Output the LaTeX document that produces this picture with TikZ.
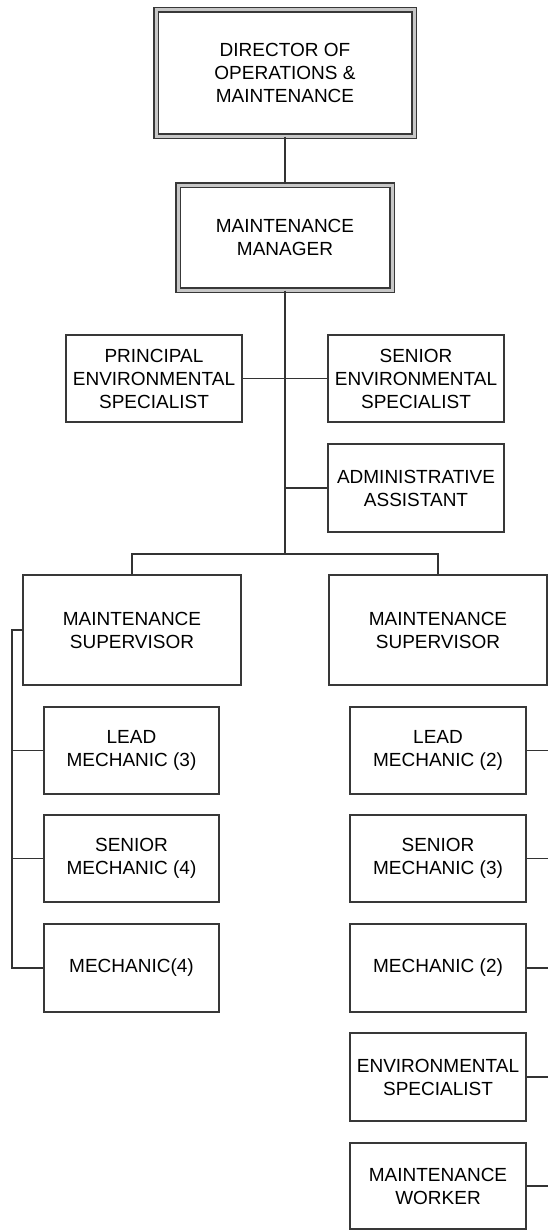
\documentclass[tikz,border=0pt]{standalone}
\usepackage{fontspec}
\setmainfont{Liberation Sans}
\begin{document}
\begin{tikzpicture}[x=1pt,y=-1pt,
  box/.style={draw=black!78, line width=1.4pt, fill=white, rectangle, align=center,
    inner sep=2pt, text=black, font=\fontsize{19}{23}\selectfont},
  dbox/.style={box, line width=1.2pt, double=black!22, double distance=3pt},
  conn/.style={draw=black!80, line width=1.4pt}]
\useasboundingbox (0,0) rectangle (548,1231);
% top
\node[dbox, minimum width=258pt, minimum height=126pt] (dir) at (285,73) {DIRECTOR OF\\OPERATIONS \&\\MAINTENANCE};
\node[dbox, minimum width=214pt, minimum height=105pt] (mgr) at (285,237.5) {MAINTENANCE\\MANAGER};
% staff
\node[box, minimum width=176pt, minimum height=87pt] (pes) at (154,378.5) {PRINCIPAL\\ENVIRONMENTAL\\SPECIALIST};
\node[box, minimum width=176pt, minimum height=87pt] (ses) at (416,378.5) {SENIOR\\ENVIRONMENTAL\\SPECIALIST};
\node[box, minimum width=176pt, minimum height=88pt] (adm) at (416,488) {ADMINISTRATIVE\\ASSISTANT};
% supervisors
\node[box, minimum width=218pt, minimum height=110pt] (ms1) at (132,630) {MAINTENANCE\\SUPERVISOR};
\node[box, minimum width=218pt, minimum height=110pt] (ms2) at (438,630) {MAINTENANCE\\SUPERVISOR};
% left team
\node[box, minimum width=175pt, minimum height=87pt] (lm3) at (131.5,750.5) {LEAD\\MECHANIC (3)};
\node[box, minimum width=175pt, minimum height=87pt] (sm4) at (131.5,858.5) {SENIOR\\MECHANIC (4)};
\node[box, minimum width=175pt, minimum height=88pt] (m4) at (131.5,968) {MECHANIC(4)};
% right team
\node[box, minimum width=176pt, minimum height=87pt] (lm2) at (438,750.5) {LEAD\\MECHANIC (2)};
\node[box, minimum width=176pt, minimum height=87pt] (sm3) at (438,858.5) {SENIOR\\MECHANIC (3)};
\node[box, minimum width=176pt, minimum height=88pt] (m2) at (438,968) {MECHANIC (2)};
\node[box, minimum width=176pt, minimum height=88pt] (env) at (438,1077) {ENVIRONMENTAL\\SPECIALIST};
\node[box, minimum width=176pt, minimum height=86pt] (mw) at (438,1186) {MAINTENANCE\\WORKER};
% helper coordinates
\coordinate (bus) at (285,554);
\coordinate (sl) at (12,968);
\coordinate (sr) at (548,630);
% connectors
\draw[conn] (dir.south) -- (mgr.north);
\draw[conn] (mgr.south) -- (bus);
\draw[conn] (pes.east) -- (ses.west);
\draw[conn] (adm.west) -- (adm.west -| bus);
\draw[conn] (ms1.north) |- (bus) -| (ms2.north);
\draw[conn] (ms1.west) -| (sl) -- (m4.west);
\draw[conn] (lm3.west) -- (lm3.west -| sl);
\draw[conn] (sm4.west) -- (sm4.west -| sl);
\draw[conn] (ms2.east) -- (sr);
\draw[conn] (lm2.east) -- (lm2.east -| sr);
\draw[conn] (sm3.east) -- (sm3.east -| sr);
\draw[conn] (m2.east) -- (m2.east -| sr);
\draw[conn] (env.east) -- (env.east -| sr);
\draw[conn] (mw.east) -- (mw.east -| sr);
\end{tikzpicture}
\end{document}
